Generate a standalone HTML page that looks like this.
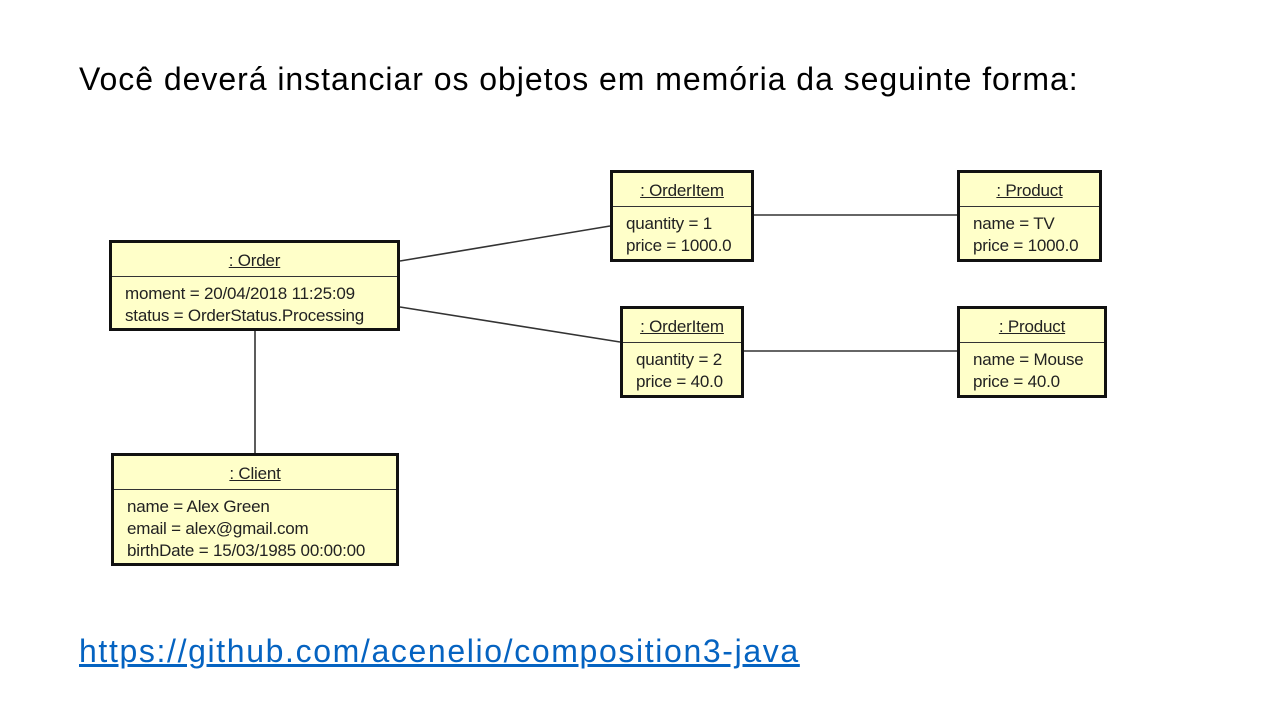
<!DOCTYPE html>
<html><head><meta charset="utf-8"><style>
body{margin:0;width:1264px;height:709px;background:#fff;position:relative;overflow:hidden;font-family:"Liberation Sans",sans-serif}
.t{position:absolute;left:79px;top:61px;font-size:32px;letter-spacing:0.96px;color:#000;white-space:nowrap}
.l{position:absolute;left:79px;top:633px;font-size:32px;letter-spacing:1.63px;color:#0563c1;text-decoration:underline;white-space:nowrap}
.b{position:absolute;background:#ffffc9;border:3px solid #111;box-sizing:border-box;font-size:17px;color:#222;letter-spacing:-0.2px}
.h{text-align:center;border-bottom:1.5px solid #333;height:33px;line-height:35px}
.h span{text-decoration:underline}
.a{padding:6px 0 0 13px;line-height:22px;white-space:nowrap}
</style></head><body>
<div class="t">Você deverá instanciar os objetos em memória da seguinte forma:</div>
<svg width="1264" height="709" style="position:absolute;left:0;top:0">
<g stroke="#333" stroke-width="1.6">
<line x1="400" y1="261" x2="610" y2="226"/>
<line x1="400" y1="307" x2="620" y2="342"/>
<line x1="753" y1="215" x2="957" y2="215"/>
<line x1="743" y1="351" x2="957" y2="351"/>
<line x1="255" y1="331" x2="255" y2="453"/>
</g></svg>
<div class="b" style="left:109px;top:240px;width:291px;height:91px"><div class="h"><span>: Order</span></div><div class="a">moment = 20/04/2018 11:25:09<br>status = OrderStatus.Processing</div></div>
<div class="b" style="left:610px;top:170px;width:144px;height:92px"><div class="h"><span>: OrderItem</span></div><div class="a">quantity = 1<br>price = 1000.0</div></div>
<div class="b" style="left:620px;top:306px;width:124px;height:92px"><div class="h"><span>: OrderItem</span></div><div class="a">quantity = 2<br>price = 40.0</div></div>
<div class="b" style="left:957px;top:170px;width:145px;height:92px"><div class="h"><span>: Product</span></div><div class="a">name = TV<br>price = 1000.0</div></div>
<div class="b" style="left:957px;top:306px;width:150px;height:92px"><div class="h"><span>: Product</span></div><div class="a">name = Mouse<br>price = 40.0</div></div>
<div class="b" style="left:111px;top:453px;width:288px;height:113px"><div class="h"><span>: Client</span></div><div class="a">name = Alex Green<br>email = alex@gmail.com<br>birthDate = 15/03/1985 00:00:00</div></div>
<div class="l">https://github.com/acenelio/composition3-java</div>
</body></html>
